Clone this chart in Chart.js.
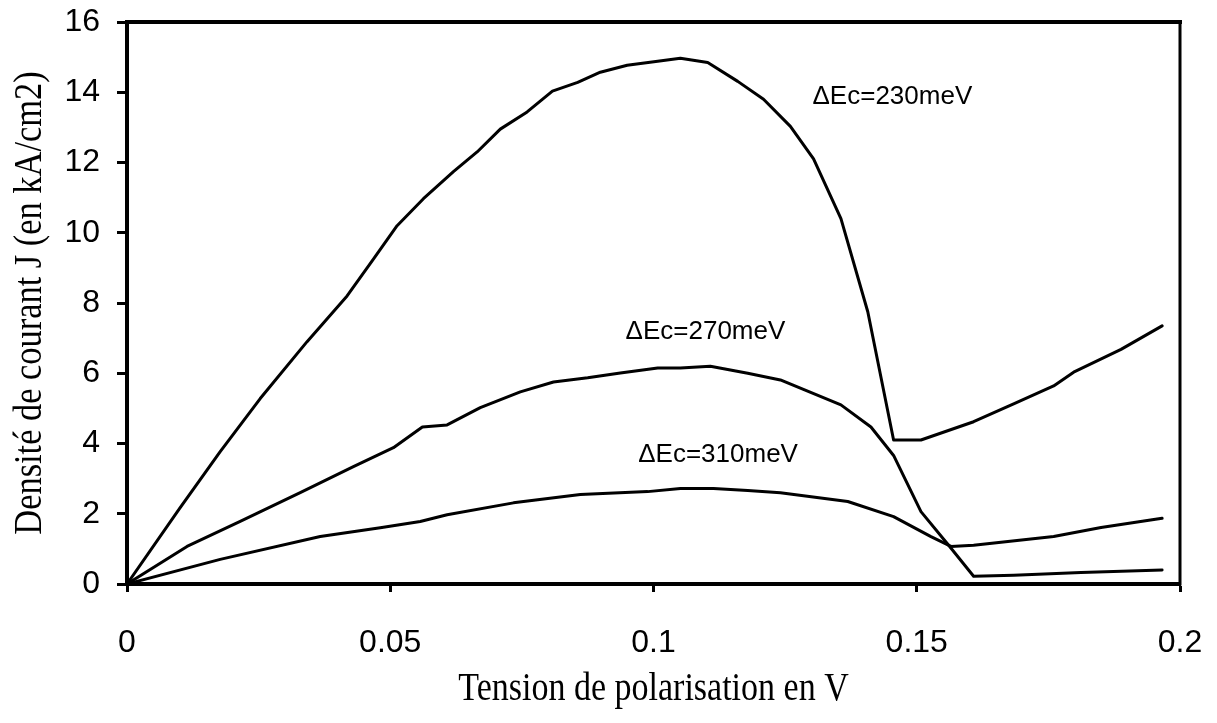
<!DOCTYPE html>
<html>
<head>
<meta charset="utf-8">
<script src="https://cdn.jsdelivr.net/npm/chart.js@4/dist/chart.umd.min.js"></script>
<style>
  html, body { margin: 0; padding: 0; background: #fff; }
  #wrap { width: 1217px; height: 723px; }
</style>
</head>
<body>
<div id="wrap"><canvas id="c" width="1217" height="723"></canvas></div>
<script>
// Current density J (kA/cm2) versus bias voltage V for three band offsets
const v230 = [0, 0.010, 0.0177, 0.0253, 0.0342, 0.0418, 0.0468, 0.0513, 0.0563, 0.062, 0.0665, 0.0709, 0.076, 0.0808, 0.0856, 0.0899, 0.095, 0.1008, 0.1051, 0.1103, 0.116, 0.1209, 0.126, 0.1304, 0.1356, 0.1407, 0.1456, 0.1508, 0.1608, 0.1684, 0.176, 0.1798, 0.1888, 0.1966];
const j230 = [0, 2.15, 3.77, 5.28, 6.9, 8.2, 9.25, 10.2, 10.97, 11.74, 12.3, 12.95, 13.44, 14.03, 14.28, 14.57, 14.77, 14.88, 14.97, 14.85, 14.31, 13.8, 13.03, 12.1, 10.4, 7.75, 4.1, 4.1, 4.62, 5.13, 5.64, 6.03, 6.68, 7.35];

const v270 = [0, 0.0114, 0.0215, 0.0329, 0.043, 0.0506, 0.0561, 0.0608, 0.0671, 0.0747, 0.081, 0.0875, 0.0937, 0.1008, 0.1051, 0.1108, 0.1179, 0.1241, 0.1356, 0.1413, 0.1456, 0.1508, 0.1559, 0.1608, 0.1684, 0.1812, 0.1966];
const j270 = [0, 1.07, 1.78, 2.6, 3.34, 3.88, 4.47, 4.53, 5.02, 5.47, 5.75, 5.87, 6.01, 6.15, 6.15, 6.2, 6.0, 5.81, 5.1, 4.47, 3.66, 2.06, 1.13, 0.22, 0.25, 0.33, 0.4];

const v310 = [0, 0.0177, 0.0367, 0.0481, 0.0557, 0.0608, 0.0734, 0.0861, 0.0989, 0.1051, 0.1114, 0.1179, 0.1241, 0.1369, 0.1456, 0.1527, 0.1565, 0.1608, 0.176, 0.185, 0.1966];
const j310 = [0, 0.7, 1.35, 1.6, 1.78, 1.97, 2.31, 2.55, 2.63, 2.72, 2.72, 2.66, 2.6, 2.35, 1.92, 1.35, 1.07, 1.1, 1.35, 1.61, 1.87];

const seriesNames = ['\u0394Ec=230meV', '\u0394Ec=270meV', '\u0394Ec=310meV'];
// where each curve name is written, in axis units (left edge, vertical centre)
const nameAnchorV = [0.1302, 0.0947, 0.0971];
const nameAnchorJ = [13.86, 7.17, 3.67];

const voltTickLabels = ['0', '0.05', '0.1', '0.15', '0.2'];
const currentTickValues = [0, 2, 4, 6, 8, 10, 12, 14, 16];

const xTitle = 'Tension de polarisation en V';
const yTitle = 'Densit\u00e9 de courant J (en kA/cm2)';

const toPoints = (xs, ys) => xs.map((x, i) => ({ x: x, y: ys[i] }));

const lineStyle = {
  borderColor: '#000',
  borderWidth: 3,
  pointRadius: 0,
  tension: 0,
  fill: false,
  borderJoinStyle: 'round',
  borderCapStyle: 'round'
};

const tickFont = { family: '"Liberation Sans", Arial, sans-serif', size: 32 };

// Frame on the top and right, axis titles and curve names
const decorations = {
  id: 'decorations',
  afterDraw(chart) {
    const { ctx, chartArea: a, scales } = chart;
    ctx.save();
    ctx.strokeStyle = '#000';
    ctx.lineCap = 'square';
    ctx.lineWidth = 4;
    ctx.beginPath();
    ctx.moveTo(a.left, a.top);
    ctx.lineTo(a.right, a.top);
    ctx.stroke();
    ctx.lineWidth = 3;
    ctx.beginPath();
    ctx.moveTo(a.right, a.top);
    ctx.lineTo(a.right, a.bottom);
    ctx.stroke();

    ctx.fillStyle = '#000';
    // curve names
    ctx.font = '26px "Liberation Sans", Arial, sans-serif';
    ctx.textAlign = 'left';
    ctx.textBaseline = 'middle';
    seriesNames.forEach((name, i) => {
      const px = scales.x.getPixelForValue(nameAnchorV[i]);
      const py = scales.y.getPixelForValue(nameAnchorJ[i]);
      ctx.fillText(name, px, py);
    });

    // axis titles in a narrow serif
    ctx.font = '40px "Liberation Serif", "Times New Roman", serif';
    ctx.textAlign = 'center';
    ctx.textBaseline = 'alphabetic';
    ctx.save();
    ctx.translate((a.left + a.right) / 2, a.bottom + 116);
    ctx.scale(0.85, 1);
    ctx.fillText(xTitle, 0, 0);
    ctx.restore();

    ctx.save();
    ctx.translate(41, (a.top + a.bottom) / 2);
    ctx.rotate(-Math.PI / 2);
    ctx.scale(0.86, 1);
    ctx.fillText(yTitle, 0, 0);
    ctx.restore();
    ctx.restore();
  }
};

new Chart(document.getElementById('c'), {
  type: 'line',
  data: {
    datasets: [
      Object.assign({ label: seriesNames[0], data: toPoints(v230, j230) }, lineStyle),
      Object.assign({ label: seriesNames[1], data: toPoints(v270, j270) }, lineStyle),
      Object.assign({ label: seriesNames[2], data: toPoints(v310, j310) }, lineStyle)
    ]
  },
  options: {
    responsive: false,
    animation: false,
    parsing: false,
    layout: { padding: { left: 0, top: 22, right: 37, bottom: 0 } },
    plugins: {
      legend: { display: false },
      tooltip: { enabled: false },
      title: { display: false }
    },
    scales: {
      x: {
        type: 'linear',
        min: 0,
        max: 0.2,
        afterFit(s) { s.height = 139; s.paddingLeft = 0; s.paddingRight = 0; },
        afterBuildTicks(s) { s.ticks = voltTickLabels.map(t => ({ value: parseFloat(t) })); },
        ticks: {
          callback: (v, i) => voltTickLabels[i],
          color: '#000',
          padding: 32,
          maxRotation: 0,
          font: tickFont
        },
        grid: { drawOnChartArea: false, drawTicks: true, tickLength: 8, tickWidth: 3, tickColor: '#000' },
        border: { display: true, color: '#000', width: 4 }
      },
      y: {
        type: 'linear',
        min: 0,
        max: 16,
        afterFit(s) { s.width = 127; s.paddingTop = 0; s.paddingBottom = 0; },
        afterBuildTicks(s) { s.ticks = currentTickValues.map(v => ({ value: v })); },
        ticks: {
          color: '#000',
          padding: 17,
          font: tickFont
        },
        grid: { drawOnChartArea: false, drawTicks: true, tickLength: 10, tickWidth: 3, tickColor: '#000' },
        border: { display: true, color: '#000', width: 4 }
      }
    }
  },
  plugins: [decorations]
});
</script>
</body>
</html>
